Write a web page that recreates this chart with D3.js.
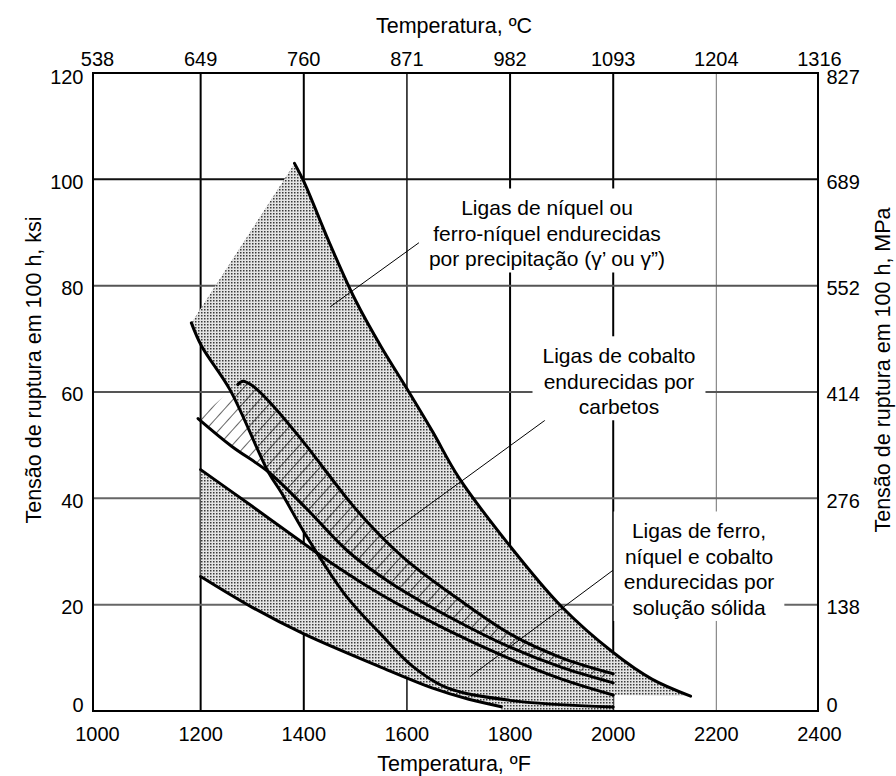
<!DOCTYPE html>
<html>
<head>
<meta charset="utf-8">
<script src="https://cdn.jsdelivr.net/npm/d3@7/dist/d3.min.js"></script>
<style>
  html, body { margin: 0; padding: 0; background: #fff; }
  svg { display: block; font-family: "Liberation Sans", Arial, sans-serif; }
</style>
</head>
<body>
<svg id="chart" width="896" height="776"></svg>
<script>
// Temperature ticks (°F, bottom) and their °C equivalents (top)
const tempF = [1000, 1200, 1400, 1600, 1800, 2000, 2200, 2400];
const tempC = ["538", "649", "760", "871", "982", "1093", "1204", "1316"];
// Stress ticks (ksi, left) and their MPa equivalents (right)
const stressKsi = [0, 20, 40, 60, 80, 100, 120];
const stressMPa = ["0", "138", "276", "414", "552", "689", "827"];

// Nickel / iron-nickel precipitation-hardened band: upper curve, lower curve, right tip
const nickelUpper = [[1382,103],[1400,99.6],[1450,88],[1500,77.3],[1550,68.5],[1600,60.6],[1650,52.5],[1700,44],[1800,31],[1900,19.6],[2000,11],[2075,6],[2150,2.8]];
const nickelLower = [[1182,73],[1202,68.6],[1257,60.4],[1331,45],[1357,41],[1402,33.4],[1483,21.5],[1548,14.6],[1610,8.5],[1677,4.4],[1800,2],[2000,0.75]];
const nickelTip = [[2150,2.8],[2000,3]];
// Cobalt carbide-strengthened band
const cobaltUpper = [[1272,61.4],[1282,62],[1300,61.2],[1330,58.5],[1396,51],[1492,39],[1548,33],[1600,28.3],[1686,22],[1800,14.5],[1900,10],[2000,7]];
const cobaltLower = [[1195,55],[1260,49.8],[1331,45],[1402,38.4],[1486,30],[1570,24],[1686,17.5],[1800,12],[1900,8.2],[2000,5.3]];
// Solid-solution iron, nickel and cobalt band
const solidUpper = [[1200,45.4],[1300,38.5],[1400,31.5],[1460,27.4],[1548,22],[1677,15.3],[1800,9.8],[1900,6],[2000,3]];
const solidLower = [[1200,25.3],[1300,19.5],[1400,14.5],[1548,8.3],[1650,4.3],[1720,2.2],[1783,0.8]];

// Band captions, each with a leader line: [°F, ksi] inside the band -> [°F, ksi] at the caption
const captions = [
  { lines: ["Ligas de níquel ou", "ferro-níquel endurecidas", "por precipitação (γ’ ou γ”)"], anchor: [1871.6, 93.2], leader: [[1451, 76], [1655, 90.3]] },
  { lines: ["Ligas de cobalto", "endurecidas por", "carbetos"], anchor: [2011.2, 65.4], leader: [[1554, 32.5], [1868, 54.7]] },
  { lines: ["Ligas de ferro,", "níquel e cobalto", "endurecidas por", "solução sólida"], anchor: [2166.4, 32.45], leader: [[1722, 6.45], [2000, 26.5]] }
];

const svg = d3.select("#chart");
const frame = { left: 93, right: 818, top: 73, bottom: 711 };

const x = d3.scaleLinear().domain([1000, 2400]).range([97.5, 819.5]);
const y = d3.scaleLinear().domain([0, 120]).range([711, 73]);

// Stipple and hatch fills
const defs = svg.append("defs");
const dots = defs.append("pattern").attr("id", "stipple")
  .attr("width", 3).attr("height", 3).attr("patternUnits", "userSpaceOnUse");
dots.append("rect").attr("width", 3).attr("height", 3).attr("fill", "#e4e4e4");
dots.append("rect").attr("width", 1.5).attr("height", 1.5).attr("fill", "#3a3a3a");

const hatch = defs.append("pattern").attr("id", "hatch")
  .attr("width", 10).attr("height", 10).attr("patternUnits", "userSpaceOnUse")
  .attr("patternTransform", "rotate(42)");
hatch.append("line").attr("x1", 0).attr("y1", 0).attr("x2", 0).attr("y2", 10)
  .attr("stroke", "#000").attr("stroke-width", 1.2);

const line = d3.line().x(d => x(d[0])).y(d => y(d[1])).curve(d3.curveCatmullRom.alpha(0.5));
const rev = a => a.slice().reverse();
const joinTo = (path, pts) => path + pts.map(p => "L" + x(p[0]) + "," + y(p[1])).join("");
const cont = p => "L" + line(p).slice(1);

// Grid lines
const vGrid = [
  { f: 1200, c: "#000", w: 2 }, { f: 1400, c: "#000", w: 2 }, { f: 1600, c: "#111", w: 1.5 },
  { f: 1800, c: "#000", w: 2 }, { f: 2000, c: "#000", w: 2 }, { f: 2200, c: "#888", w: 1.2 }
];
const hGrid = [
  { k: 20, c: "#666", w: 2 }, { k: 40, c: "#666", w: 2 }, { k: 60, c: "#555", w: 2 },
  { k: 80, c: "#555", w: 2 }, { k: 100, c: "#111", w: 2 }
];
const grid = svg.append("g");
grid.selectAll("line.v").data(vGrid).join("line")
  .attr("x1", d => x(d.f)).attr("x2", d => x(d.f))
  .attr("y1", frame.top).attr("y2", frame.bottom)
  .attr("stroke", d => d.c).attr("stroke-width", d => d.w);
grid.selectAll("line.h").data(hGrid).join("line")
  .attr("x1", frame.left).attr("x2", frame.right)
  .attr("y1", d => y(d.k)).attr("y2", d => y(d.k))
  .attr("stroke", d => d.c).attr("stroke-width", d => d.w);

// Bands
const plot = svg.append("g");
const nickelPath = joinTo(line(nickelUpper), nickelTip) + cont(rev(nickelLower)) + "Z";
const solidEnd = solidUpper[solidUpper.length - 1][0];
const solidStop = solidLower[solidLower.length - 1][0];
const solidPath = joinTo(line(solidUpper), [[solidEnd, 0], [solidStop, 0]]) + cont(rev(solidLower)) + "Z";
const cobaltPath = line(cobaltUpper) + cont(rev(cobaltLower)) + "Z";
plot.append("path").attr("d", nickelPath).attr("fill", "url(#stipple)");
plot.append("path").attr("d", solidPath).attr("fill", "url(#stipple)");
plot.append("path").attr("d", cobaltPath).attr("fill", "url(#hatch)");

const curves = [nickelUpper, nickelLower, cobaltUpper, cobaltLower, solidUpper, solidLower];
plot.selectAll("path.curve").data(curves).join("path")
  .attr("class", "curve").attr("d", line)
  .attr("fill", "none").attr("stroke", "#000").attr("stroke-width", 3)
  .attr("stroke-linecap", "round").attr("stroke-linejoin", "round");

// Captions on white boxes, with leader lines
const lh = 25.5;
const lab = svg.append("g").attr("font-size", 21).attr("text-anchor", "middle");
captions.forEach(L => {
  lab.append("line")
    .attr("x1", x(L.leader[0][0])).attr("y1", y(L.leader[0][1]))
    .attr("x2", x(L.leader[1][0])).attr("y2", y(L.leader[1][1]))
    .attr("stroke", "#000").attr("stroke-width", 1);
  const g = lab.append("g");
  const cx = x(L.anchor[0]);
  const t = g.append("text").attr("x", cx).attr("y", y(L.anchor[1]));
  L.lines.forEach((s, i) => t.append("tspan").attr("x", cx).attr("dy", i ? lh : 0).text(s));
  const bb = t.node().getBBox();
  g.insert("rect", "text").attr("x", bb.x - 10).attr("y", bb.y - 8)
    .attr("width", bb.width + 20).attr("height", bb.height + 10).attr("fill", "#fff");
});

// Frame
svg.append("rect").attr("x", frame.left).attr("y", frame.top)
  .attr("width", frame.right - frame.left).attr("height", frame.bottom - frame.top)
  .attr("fill", "none").attr("stroke", "#000").attr("stroke-width", 2);

// Tick labels
const yShift = d => d === 0 ? -6.5 : d === 120 ? 4 : 2;
const tl = svg.append("g").attr("font-size", 20).attr("fill", "#000");
tl.selectAll("text.b").data(tempF).join("text")
  .attr("x", d => x(d)).attr("y", 740.5).attr("text-anchor", "middle").text(d => d);
tl.selectAll("text.t").data(tempC).join("text")
  .attr("x", (d, i) => x(tempF[i])).attr("y", 65.5).attr("text-anchor", "middle").text(d => d);
tl.selectAll("text.l").data(stressKsi).join("text")
  .attr("x", 83.5).attr("y", d => y(d) + yShift(d) + 7.2).attr("text-anchor", "end").text(d => d);
tl.selectAll("text.r").data(stressMPa).join("text")
  .attr("x", 826.5).attr("y", (d, i) => y(stressKsi[i]) + yShift(stressKsi[i]) + 7.2)
  .attr("text-anchor", "start").text(d => d);

// Axis titles
const at = svg.append("g").attr("font-size", 21.5).attr("text-anchor", "middle");
at.append("text").attr("x", 454).attr("y", 770.5).text("Temperatura, ºF");
at.append("text").attr("x", 454).attr("y", 33).text("Temperatura, ºC");
at.append("text").attr("transform", "translate(41,370) rotate(-90)").text("Tensão de ruptura em 100 h, ksi");
at.append("text").attr("transform", "translate(890,370) rotate(-90)").text("Tensão de ruptura em 100 h, MPa");
</script>
</body>
</html>
